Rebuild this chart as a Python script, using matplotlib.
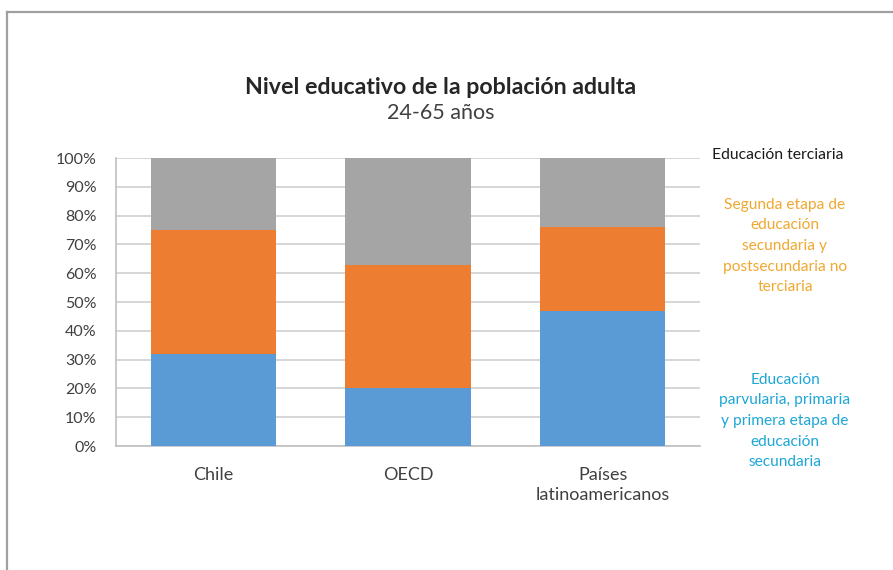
import matplotlib.pyplot as plt
from matplotlib.lines import Line2D
import numpy as np

plt.rcParams['font.family'] = ['Lato', 'DejaVu Sans']

categories = ["Chile", "OECD", "Países\nlatinoamericanos"]
basica = [32, 20, 47]          # Educación parvularia, primaria y primera etapa de secundaria
secundaria = [43, 43, 29]      # Segunda etapa de secundaria y postsecundaria no terciaria
terciaria = [25, 37, 24]       # Educación terciaria
yticks = [0, 10, 20, 30, 40, 50, 60, 70, 80, 90, 100]

W, H = 893, 570
fig = plt.figure(figsize=(W / 100, H / 100), dpi=100)
fig.patch.set_facecolor('white')

# outer frame (left and top edges)
fig.add_artist(Line2D([7 / W, 7 / W], [0, 1 - 12 / H], transform=fig.transFigure,
                      color='#a0a0a0', lw=1.6))
fig.add_artist(Line2D([7 / W, 1], [1 - 12 / H, 1 - 12 / H], transform=fig.transFigure,
                      color='#a0a0a0', lw=1.6))

ax = fig.add_axes([116 / W, (H - 446) / H, (700 - 116) / W, (446 - 158) / H])
x = np.arange(len(categories))
b = np.array(basica, dtype=float) / 100
s = np.array(secundaria, dtype=float) / 100
t = np.array(terciaria, dtype=float) / 100
bw = 0.645
ax.bar(x, b, width=bw, color='#5b9bd5', zorder=3)
ax.bar(x, s, width=bw, bottom=b, color='#ed7d31', zorder=3)
ax.bar(x, t, width=bw, bottom=b + s, color='#a5a5a5', zorder=3)

ax.set_xlim(-0.5, len(categories) - 0.5)
ax.set_ylim(0, 1)
ax.set_yticks([v / 100 for v in yticks])
ax.set_yticklabels([f"{v}%" for v in yticks], fontsize=11.5, color='#404040')
ax.set_xticks(x)
ax.set_xticklabels(categories, fontsize=13, color='#404040', linespacing=1.35)
ax.tick_params(axis='both', length=0)
ax.tick_params(axis='y', pad=14)
ax.tick_params(axis='x', pad=15)
ax.grid(axis='y', color='#d0d0d0', lw=1.2, zorder=0)
for side in ['top', 'right']:
    ax.spines[side].set_visible(False)
for side in ['left', 'bottom']:
    ax.spines[side].set_color('#c0c0c0')
    ax.spines[side].set_linewidth(1.2)

fig.text(441 / W, 1 - 88 / H, "Nivel educativo de la población adulta", ha='center',
         va='center', fontsize=16.7, fontweight='bold', color='#262626')
fig.text(441 / W, 1 - 113 / H, "24-65 años", ha='center', va='center',
         fontsize=15.5, color='#404040')

fig.text(778 / W, 1 - 155 / H, "Educación terciaria", ha='center', va='center',
         fontsize=11.3, color='#1a1a1a')
fig.text(785 / W, 1 - 246 / H,
         "Segunda etapa de\neducación\nsecundaria y\npostsecundaria no\nterciaria",
         ha='center', va='center', fontsize=11.2, color='#f0a830', linespacing=1.6)
fig.text(785 / W, 1 - 421 / H,
         "Educación\nparvularia, primaria\ny primera etapa de\neducación\nsecundaria",
         ha='center', va='center', fontsize=11.2, color='#1ea6d6', linespacing=1.6)

fig.savefig('out.png', dpi=100, facecolor='white')
